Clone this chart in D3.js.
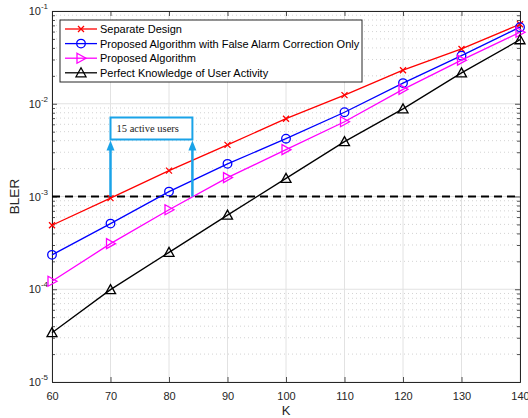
<!DOCTYPE html>
<html>
<head>
<meta charset="utf-8">
<script src="https://cdn.jsdelivr.net/npm/d3@7"></script>
<style>
  body { margin: 0; background: #fff; }
  svg { display: block; font-family: "Liberation Sans", Arial, sans-serif; }
</style>
</head>
<body>
<script>
// data
const kValues = [60, 70, 80, 90, 100, 110, 120, 130, 140]
const separateDesign = [4.9e-4, 9.6e-4, 1.9e-3, 3.6e-3, 6.9e-3, 1.24e-2, 2.3e-2, 3.9e-2, 7.2e-2]
const falseAlarmOnly = [2.35e-4, 5.1e-4, 1.13e-3, 2.25e-3, 4.2e-3, 8.1e-3, 1.67e-2, 3.3e-2, 6.7e-2]
const proposedAlgo = [1.22e-4, 3.1e-4, 7.2e-4, 1.6e-3, 3.2e-3, 6.4e-3, 1.43e-2, 2.95e-2, 5.9e-2]
const perfectKnowledge = [3.4e-5, 9.9e-5, 2.5e-4, 6.3e-4, 1.57e-3, 3.9e-3, 8.8e-3, 2.15e-2, 4.9e-2]
const xTicks = [60, 70, 80, 90, 100, 110, 120, 130, 140]
const yDecades = [-5, -4, -3, -2, -1]
const targetBler = 1e-3
const annotationText = '15 active users'
const annotationK = [70, 84]

const seriesList = [
  {name: 'Separate Design', values: separateDesign, color: '#ff0000', marker: 'x'},
  {name: 'Proposed Algorithm with False Alarm Correction Only', values: falseAlarmOnly, color: '#0000ff', marker: 'o'},
  {name: 'Proposed Algorithm', values: proposedAlgo, color: '#ff00ff', marker: '>'},
  {name: 'Perfect Knowledge of User Activity', values: perfectKnowledge, color: '#000000', marker: '^'}
]

const W = 528, H = 418
const m = {left: 52, right: 8, top: 11, bottom: 36}
const pw = W - m.left - m.right, ph = H - m.top - m.bottom

const svg = d3.select('body').append('svg').attr('width', W).attr('height', H)
const g = svg.append('g').attr('transform', `translate(${m.left},${m.top})`)

const x = d3.scaleLinear().domain([60, 140]).range([0, pw])
const y = d3.scaleLog().domain([1e-5, 1e-1]).range([ph, 0])

// minor values for log axis
let minors = []
yDecades.slice(0, -1).forEach(d => {
  for (let k = 2; k <= 9; k++) minors.push(k * Math.pow(10, d))
})

// grid
g.append('g').selectAll('line').data(minors).join('line')
  .attr('x1', 0).attr('x2', pw)
  .attr('y1', d => y(d)).attr('y2', d => y(d))
  .attr('stroke', '#c8c8c8').attr('stroke-width', 0.8).attr('stroke-dasharray', '1,3')
g.append('g').selectAll('line').data(yDecades).join('line')
  .attr('x1', 0).attr('x2', pw)
  .attr('y1', d => y(Math.pow(10, d))).attr('y2', d => y(Math.pow(10, d)))
  .attr('stroke', '#e2e2e2').attr('stroke-width', 1)
g.append('g').selectAll('line').data(xTicks).join('line')
  .attr('x1', d => x(d)).attr('x2', d => x(d))
  .attr('y1', 0).attr('y2', ph)
  .attr('stroke', '#e2e2e2').attr('stroke-width', 1)

// axes
const axisColor = '#262626'
const xAxis = g.append('g').attr('transform', `translate(0,${ph})`)
  .call(d3.axisBottom(x).tickValues(xTicks).tickSize(-5).tickSizeOuter(0).tickPadding(10))
const xTop = g.append('g')
  .call(d3.axisTop(x).tickValues(xTicks).tickSize(-5).tickSizeOuter(0).tickFormat(''))
const yAxis = g.append('g')
  .call(d3.axisLeft(y).tickValues(yDecades.map(d => Math.pow(10, d))).tickSize(-5).tickSizeOuter(0).tickFormat(''))
const yRight = g.append('g').attr('transform', `translate(${pw},0)`)
  .call(d3.axisRight(y).tickValues(yDecades.map(d => Math.pow(10, d))).tickSize(-5).tickSizeOuter(0).tickFormat(''))
const yMinL = g.append('g').call(d3.axisLeft(y).tickValues(minors).tickSize(-3).tickSizeOuter(0).tickFormat(''))
const yMinR = g.append('g').attr('transform', `translate(${pw},0)`)
  .call(d3.axisRight(y).tickValues(minors).tickSize(-3).tickSizeOuter(0).tickFormat(''))

;[xAxis, xTop, yAxis, yRight, yMinL, yMinR].forEach(a => {
  a.select('.domain').attr('stroke', axisColor).attr('stroke-width', 1)
  a.selectAll('.tick line').attr('stroke', axisColor).attr('stroke-width', 0.8)
})
xAxis.selectAll('text').attr('fill', axisColor).attr('font-size', 11)
  .attr('font-family', '"Liberation Sans", Arial, sans-serif')

// y tick labels 10^n
const yl = g.append('g')
yDecades.forEach(d => {
  const t = yl.append('text').attr('x', -4).attr('y', y(Math.pow(10, d)) + 4)
    .attr('text-anchor', 'end').attr('fill', axisColor).attr('font-size', 11)
  t.append('tspan').text('10')
  t.append('tspan').attr('dy', -6).attr('font-size', 8).text(String(d))
})

// axis labels
svg.append('text').attr('x', m.left + pw / 2).attr('y', H - 3)
  .attr('text-anchor', 'middle').attr('font-size', 13).attr('fill', axisColor).text('K')
svg.append('text').attr('transform', `translate(19,${m.top + ph / 2}) rotate(-90)`)
  .attr('text-anchor', 'middle').attr('font-size', 13.5).attr('fill', axisColor).text('BLER')

const plot = g.append('g')

// dashed target line
plot.append('line')
  .attr('x1', 0).attr('x2', pw).attr('y1', y(targetBler)).attr('y2', y(targetBler))
  .attr('stroke', '#000').attr('stroke-width', 2).attr('stroke-dasharray', '8,5')

const drawMarker = (sel, type, color, cx, cy) => {
  if (type === 'x') {
    const s = 3
    sel.append('path').attr('d', `M${cx - s},${cy - s}L${cx + s},${cy + s}M${cx - s},${cy + s}L${cx + s},${cy - s}`)
      .attr('stroke', color).attr('stroke-width', 1.3).attr('fill', 'none')
  } else if (type === 'o') {
    sel.append('circle').attr('cx', cx).attr('cy', cy).attr('r', 4.3)
      .attr('stroke', color).attr('stroke-width', 1.3).attr('fill', 'none')
  } else if (type === '>') {
    sel.append('path').attr('d', `M${cx - 4},${cy - 5}L${cx + 5},${cy}L${cx - 4},${cy + 5}Z`)
      .attr('stroke', color).attr('stroke-width', 1.3).attr('fill', 'none')
  } else {
    sel.append('path').attr('d', `M${cx},${cy - 5}L${cx + 5},${cy + 4}L${cx - 5},${cy + 4}Z`)
      .attr('stroke', color).attr('stroke-width', 1.3).attr('fill', 'none')
  }
}

const line = d3.line().x((d, i) => x(kValues[i])).y(d => y(d))
seriesList.forEach(s => {
  plot.append('path').datum(s.values).attr('d', line)
    .attr('fill', 'none').attr('stroke', s.color).attr('stroke-width', 1.3)
  s.values.forEach((v, i) => drawMarker(plot, s.marker, s.color, x(kValues[i]), y(v)))
})

// annotation box with arrows
const annColor = '#1aa3e8'
const boxTop = y(targetBler) - 79, boxBottom = y(targetBler) - 57
const bx0 = x(annotationK[0]), bx1 = x(annotationK[1])
plot.append('rect').attr('x', bx0).attr('y', boxTop).attr('width', bx1 - bx0).attr('height', boxBottom - boxTop)
  .attr('fill', '#fff').attr('stroke', annColor).attr('stroke-width', 2)
plot.append('text').attr('x', bx0 + 6).attr('y', boxTop + 14.5)
  .attr('font-family', '"Liberation Serif", "Times New Roman", serif').attr('font-size', 10.5).attr('fill', '#222')
  .text(annotationText)
annotationK.forEach(k => {
  const ax = x(k)
  plot.append('line').attr('x1', ax).attr('x2', ax).attr('y1', y(targetBler)).attr('y2', boxBottom + 8)
    .attr('stroke', annColor).attr('stroke-width', 2.5)
  plot.append('path').attr('d', `M${ax},${boxBottom + 1}L${ax + 4},${boxBottom + 11}L${ax - 4},${boxBottom + 11}Z`)
    .attr('fill', annColor)
})

// legend
const lg = g.append('g').attr('transform', 'translate(8,9)')
lg.append('rect').attr('width', 302).attr('height', 62).attr('fill', '#fff')
  .attr('stroke', axisColor).attr('stroke-width', 1)
seriesList.forEach((s, i) => {
  const ly = 9 + i * 14.6
  lg.append('line').attr('x1', 5).attr('x2', 37).attr('y1', ly).attr('y2', ly)
    .attr('stroke', s.color).attr('stroke-width', 1.3)
  drawMarker(lg, s.marker, s.color, 21, ly)
  lg.append('text').attr('x', 40).attr('y', ly + 4).attr('font-size', 11).attr('fill', '#000').text(s.name)
})
</script>
</body>
</html>
